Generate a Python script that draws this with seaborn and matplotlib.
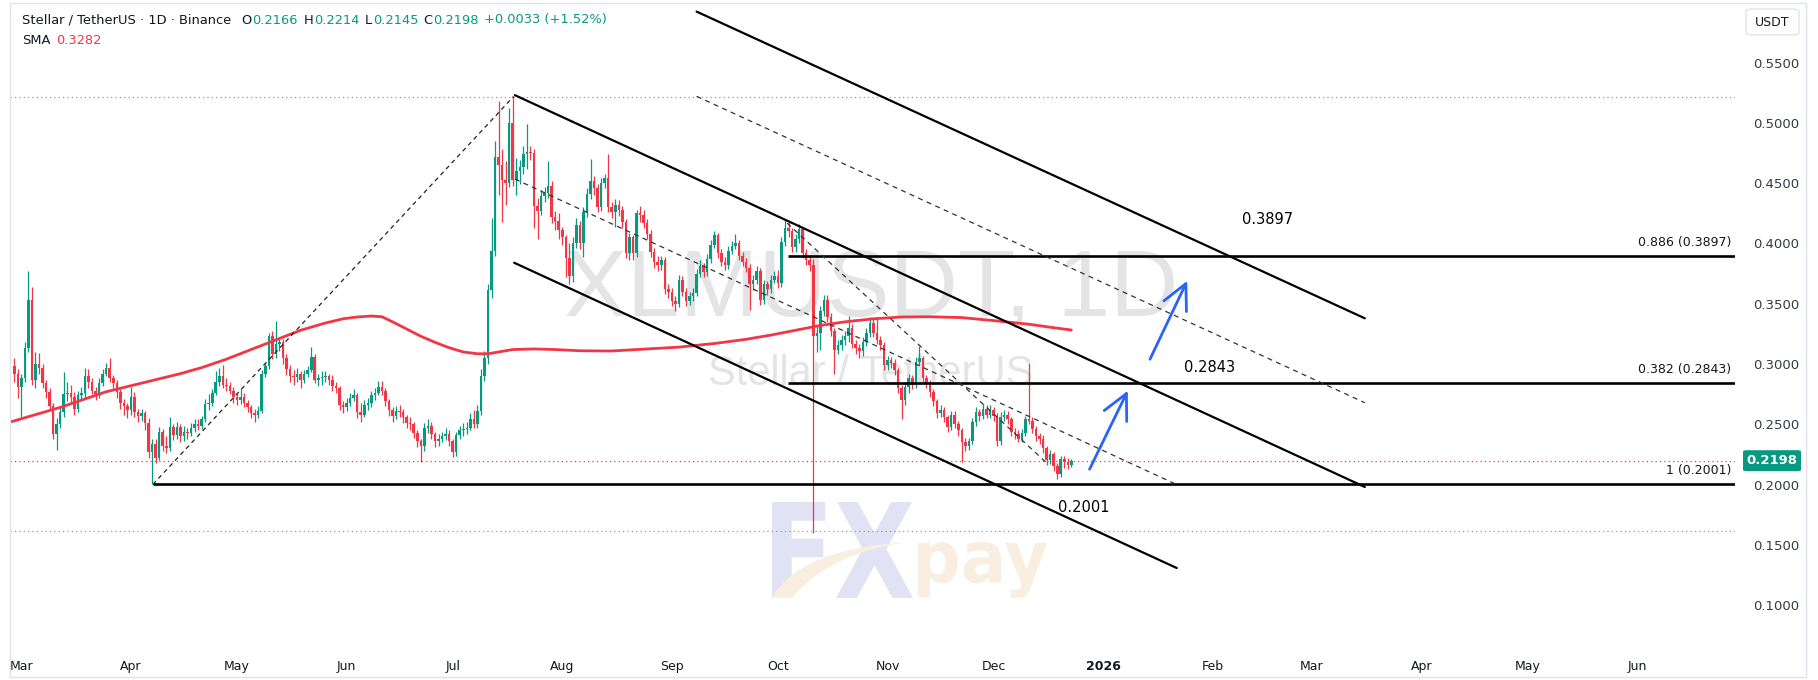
import numpy as np
import pandas as pd
import matplotlib
matplotlib.use("Agg")
import matplotlib.pyplot as plt
import matplotlib.transforms as mtransforms
import seaborn as sns
from matplotlib.patches import FancyBboxPatch, Rectangle, PathPatch
from matplotlib.path import Path
from matplotlib.textpath import TextPath
from matplotlib.font_manager import FontProperties

# XLM/USDT daily candles, 27 Feb 2025 .. 23 Dec 2025
start_date = "2025-02-27"
first_open = 0.298
closes = [
    0.292, 0.281, 0.288, 0.313, 0.353, 0.287, 0.300, 0.297, 0.284, 0.277,
    0.265, 0.242, 0.250, 0.260, 0.275, 0.276, 0.273, 0.263, 0.274, 0.276,
    0.290, 0.285, 0.278, 0.275, 0.284, 0.292, 0.297, 0.288, 0.284, 0.277,
    0.268, 0.265, 0.262, 0.273, 0.260, 0.257, 0.259, 0.251, 0.227, 0.234,
    0.222, 0.244, 0.232, 0.230, 0.248, 0.241, 0.248, 0.240, 0.244, 0.243,
    0.247, 0.250, 0.249, 0.254, 0.267, 0.268, 0.276, 0.285, 0.290, 0.283,
    0.282, 0.278, 0.273, 0.270, 0.273, 0.268, 0.264, 0.259, 0.258, 0.261,
    0.292, 0.298, 0.323, 0.308, 0.317, 0.318, 0.305, 0.296, 0.290, 0.289,
    0.292, 0.287, 0.292, 0.295, 0.306, 0.287, 0.288, 0.289, 0.290, 0.287,
    0.282, 0.280, 0.266, 0.264, 0.268, 0.272, 0.274, 0.260, 0.258, 0.266,
    0.268, 0.274, 0.276, 0.281, 0.278, 0.269, 0.262, 0.257, 0.261, 0.260,
    0.256, 0.251, 0.250, 0.243, 0.236, 0.232, 0.247, 0.249, 0.242, 0.236,
    0.238, 0.240, 0.242, 0.236, 0.227, 0.241, 0.245, 0.246, 0.247, 0.254,
    0.250, 0.261, 0.290, 0.305, 0.361, 0.394, 0.472, 0.465, 0.453, 0.450,
    0.500, 0.453, 0.460, 0.463, 0.474, 0.476, 0.475, 0.431, 0.427, 0.439,
    0.442, 0.448, 0.422, 0.419, 0.411, 0.405, 0.388, 0.373, 0.400, 0.415,
    0.400, 0.426, 0.441, 0.452, 0.446, 0.430, 0.450, 0.454, 0.430, 0.426,
    0.432, 0.428, 0.418, 0.392, 0.405, 0.392, 0.425, 0.424, 0.417, 0.408,
    0.393, 0.385, 0.382, 0.386, 0.362, 0.360, 0.352, 0.350, 0.370, 0.360,
    0.352, 0.356, 0.359, 0.375, 0.381, 0.376, 0.387, 0.399, 0.407, 0.392,
    0.385, 0.382, 0.394, 0.398, 0.400, 0.390, 0.385, 0.380, 0.366, 0.370,
    0.377, 0.353, 0.366, 0.362, 0.370, 0.373, 0.367, 0.401, 0.413, 0.410,
    0.397, 0.404, 0.412, 0.392, 0.386, 0.382, 0.323, 0.326, 0.344, 0.353,
    0.339, 0.327, 0.312, 0.316, 0.320, 0.323, 0.330, 0.317, 0.313, 0.311,
    0.318, 0.326, 0.334, 0.326, 0.320, 0.316, 0.299, 0.303, 0.301, 0.295,
    0.280, 0.270, 0.281, 0.288, 0.283, 0.302, 0.305, 0.288, 0.284, 0.277,
    0.269, 0.259, 0.262, 0.256, 0.248, 0.258, 0.250, 0.245, 0.235, 0.232,
    0.236, 0.252, 0.260, 0.257, 0.263, 0.258, 0.262, 0.257, 0.236, 0.256,
    0.258, 0.254, 0.244, 0.242, 0.238, 0.243, 0.254, 0.253, 0.246, 0.240,
    0.238, 0.230, 0.220, 0.225, 0.215, 0.209, 0.221, 0.219, 0.2166, 0.2198,
]
highs = [
    0.305, 0.296, 0.292, 0.318, 0.377, 0.364, 0.310, 0.309, 0.300, 0.287,
    0.280, 0.268, 0.255, 0.265, 0.293, 0.285, 0.283, 0.277, 0.278, 0.281,
    0.297, 0.296, 0.288, 0.281, 0.288, 0.296, 0.301, 0.305, 0.291, 0.287,
    0.279, 0.271, 0.268, 0.281, 0.277, 0.263, 0.263, 0.261, 0.255, 0.238,
    0.238, 0.248, 0.246, 0.240, 0.256, 0.250, 0.252, 0.250, 0.249, 0.247,
    0.251, 0.254, 0.254, 0.257, 0.271, 0.275, 0.279, 0.294, 0.297, 0.299,
    0.288, 0.285, 0.281, 0.276, 0.279, 0.276, 0.270, 0.266, 0.263, 0.265,
    0.295, 0.301, 0.326, 0.327, 0.336, 0.322, 0.321, 0.308, 0.299, 0.295,
    0.297, 0.294, 0.295, 0.298, 0.314, 0.308, 0.292, 0.294, 0.294, 0.292,
    0.291, 0.285, 0.282, 0.269, 0.272, 0.276, 0.279, 0.276, 0.268, 0.270,
    0.272, 0.278, 0.280, 0.286, 0.286, 0.280, 0.271, 0.264, 0.265, 0.266,
    0.263, 0.258, 0.256, 0.252, 0.245, 0.238, 0.251, 0.254, 0.252, 0.244,
    0.242, 0.244, 0.247, 0.245, 0.238, 0.244, 0.249, 0.251, 0.252, 0.259,
    0.262, 0.266, 0.296, 0.311, 0.366, 0.421, 0.485, 0.518, 0.478, 0.468,
    0.512, 0.522, 0.471, 0.469, 0.481, 0.499, 0.481, 0.478, 0.438, 0.444,
    0.447, 0.468, 0.452, 0.427, 0.425, 0.414, 0.407, 0.400, 0.405, 0.421,
    0.419, 0.430, 0.446, 0.470, 0.456, 0.449, 0.454, 0.458, 0.474, 0.434,
    0.437, 0.436, 0.431, 0.420, 0.409, 0.407, 0.428, 0.431, 0.428, 0.420,
    0.411, 0.396, 0.390, 0.390, 0.389, 0.366, 0.363, 0.356, 0.374, 0.373,
    0.363, 0.360, 0.363, 0.379, 0.386, 0.384, 0.391, 0.403, 0.410, 0.409,
    0.395, 0.389, 0.398, 0.402, 0.408, 0.403, 0.393, 0.388, 0.383, 0.374,
    0.381, 0.380, 0.370, 0.369, 0.374, 0.377, 0.378, 0.405, 0.420, 0.418,
    0.413, 0.408, 0.416, 0.414, 0.395, 0.390, 0.387, 0.332, 0.348, 0.357,
    0.357, 0.342, 0.330, 0.320, 0.324, 0.327, 0.340, 0.333, 0.320, 0.317,
    0.322, 0.330, 0.339, 0.337, 0.339, 0.323, 0.318, 0.307, 0.306, 0.304,
    0.297, 0.283, 0.285, 0.292, 0.291, 0.306, 0.315, 0.307, 0.291, 0.287,
    0.279, 0.271, 0.266, 0.264, 0.258, 0.261, 0.261, 0.253, 0.247, 0.239,
    0.239, 0.255, 0.264, 0.263, 0.267, 0.266, 0.266, 0.264, 0.259, 0.260,
    0.262, 0.261, 0.256, 0.247, 0.245, 0.246, 0.257, 0.301, 0.256, 0.249,
    0.243, 0.241, 0.232, 0.229, 0.227, 0.218, 0.224, 0.224, 0.222, 0.2214,
]
lows = [
    0.285, 0.272, 0.256, 0.285, 0.310, 0.283, 0.280, 0.292, 0.280, 0.272,
    0.262, 0.238, 0.229, 0.247, 0.256, 0.269, 0.267, 0.258, 0.260, 0.270,
    0.272, 0.280, 0.275, 0.270, 0.272, 0.282, 0.290, 0.285, 0.280, 0.272,
    0.263, 0.258, 0.255, 0.258, 0.256, 0.252, 0.253, 0.245, 0.222, 0.2001,
    0.218, 0.220, 0.228, 0.226, 0.228, 0.237, 0.238, 0.235, 0.236, 0.238,
    0.240, 0.244, 0.245, 0.246, 0.252, 0.262, 0.265, 0.274, 0.282, 0.280,
    0.278, 0.275, 0.268, 0.266, 0.267, 0.264, 0.260, 0.255, 0.252, 0.255,
    0.259, 0.289, 0.296, 0.304, 0.305, 0.311, 0.300, 0.291, 0.285, 0.283,
    0.285, 0.280, 0.284, 0.289, 0.293, 0.284, 0.282, 0.283, 0.285, 0.283,
    0.278, 0.276, 0.262, 0.259, 0.261, 0.265, 0.269, 0.255, 0.252, 0.256,
    0.262, 0.264, 0.270, 0.274, 0.274, 0.265, 0.257, 0.252, 0.254, 0.256,
    0.251, 0.247, 0.245, 0.239, 0.231, 0.219, 0.228, 0.243, 0.238, 0.231,
    0.232, 0.235, 0.237, 0.232, 0.223, 0.224, 0.238, 0.240, 0.242, 0.245,
    0.247, 0.247, 0.258, 0.286, 0.300, 0.355, 0.390, 0.440, 0.418, 0.432,
    0.447, 0.448, 0.440, 0.449, 0.458, 0.462, 0.469, 0.413, 0.404, 0.424,
    0.434, 0.438, 0.417, 0.411, 0.404, 0.399, 0.372, 0.366, 0.368, 0.396,
    0.395, 0.389, 0.422, 0.437, 0.440, 0.426, 0.427, 0.446, 0.426, 0.421,
    0.414, 0.423, 0.413, 0.388, 0.386, 0.386, 0.389, 0.418, 0.413, 0.404,
    0.389, 0.380, 0.377, 0.378, 0.358, 0.355, 0.348, 0.344, 0.347, 0.356,
    0.348, 0.349, 0.352, 0.356, 0.372, 0.372, 0.373, 0.384, 0.396, 0.388,
    0.381, 0.378, 0.379, 0.391, 0.395, 0.386, 0.381, 0.376, 0.345, 0.361,
    0.366, 0.349, 0.350, 0.357, 0.359, 0.367, 0.363, 0.364, 0.398, 0.405,
    0.393, 0.393, 0.400, 0.388, 0.382, 0.377, 0.160, 0.310, 0.312, 0.340,
    0.335, 0.323, 0.292, 0.308, 0.312, 0.316, 0.318, 0.313, 0.308, 0.305,
    0.307, 0.315, 0.322, 0.322, 0.317, 0.312, 0.295, 0.295, 0.297, 0.291,
    0.276, 0.254, 0.266, 0.276, 0.279, 0.280, 0.299, 0.284, 0.280, 0.273,
    0.265, 0.255, 0.256, 0.252, 0.244, 0.245, 0.247, 0.240, 0.219, 0.228,
    0.229, 0.234, 0.249, 0.253, 0.254, 0.255, 0.255, 0.253, 0.232, 0.233,
    0.253, 0.250, 0.240, 0.238, 0.235, 0.235, 0.240, 0.250, 0.243, 0.236,
    0.234, 0.226, 0.216, 0.217, 0.211, 0.205, 0.206, 0.214, 0.213, 0.2145,
]

# SMA (days from 1 Apr 2025)
sma_days = [-34, -27, -20, -13, -7, 0, 7, 14, 20, 27, 34, 41, 48, 55, 60, 64, 68,
            71, 74, 78, 82, 86, 90, 94, 98, 101, 104, 108, 114, 120, 127, 136,
            146, 155, 165, 174, 181, 188, 195, 202, 210, 218, 226, 235, 244,
            254, 260, 266]
sma_vals = [0.252, 0.258, 0.264, 0.271, 0.277, 0.282, 0.287, 0.292, 0.297, 0.304,
            0.312, 0.320, 0.328, 0.334, 0.3375, 0.339, 0.3398, 0.3392, 0.335,
            0.329, 0.323, 0.318, 0.3135, 0.310, 0.3085, 0.3085, 0.310, 0.312,
            0.3125, 0.312, 0.311, 0.3108, 0.3125, 0.314, 0.317, 0.3205, 0.324,
            0.328, 0.332, 0.335, 0.3375, 0.339, 0.3392, 0.3385, 0.336, 0.333,
            0.3305, 0.3282]

month_labels = ["Mar", "Apr", "May", "Jun", "Jul", "Aug", "Sep", "Oct", "Nov",
                "Dec", "2026", "Feb", "Mar", "Apr", "May", "Jun"]
month_dates = ["2025-03-01", "2025-04-01", "2025-05-01", "2025-06-01",
               "2025-07-01", "2025-08-01", "2025-09-01", "2025-10-01",
               "2025-11-01", "2025-12-01", "2026-01-01", "2026-02-01",
               "2026-03-01", "2026-04-01", "2026-05-01", "2026-06-01"]
price_ticks = [0.10, 0.15, 0.20, 0.25, 0.30, 0.35, 0.40, 0.45, 0.50, 0.55]

# drawn objects: (day, price) pairs
fib_levels = [0.3897, 0.2843, 0.2001]
fib_texts = ["0.886 (0.3897)", "0.382 (0.2843)", "1 (0.2001)"]
fib_starts = [185.8, 185.8, 6.2]
channel_solid = [((108.6, 0.523), (349.0, 0.198)),
                 ((108.4, 0.384), (295.8, 0.1308)),
                 ((160.0, 0.5923), (349.0, 0.3379))]
channel_dashed = [((108.6, 0.4534), (295.8, 0.200)),
                  ((160.0, 0.522), (349.0, 0.2679)),
                  ((185.6, 0.4169), (259.0, 0.218))]
swing_line = ((6.2, 0.2001), (108.2, 0.5218))
dotted_levels = [0.5218, 0.1614]
arrows = [((270.8, 0.2107), (282.3, 0.2799)), ((287.9, 0.3019), (299.1, 0.3711))]
level_notes = [("0.3897", 321.4, 0.4202), ("0.2843", 305.2, 0.2975), ("0.2001", 269.6, 0.1806)]
last_price = 0.2198

GREEN = "#089981"
RED = "#f23645"
TXT = "#131722"

sns.set_style("white")
plt.rcParams["font.family"] = ["DejaVu Sans"]

W, H = 1818, 680
fig = plt.figure(figsize=(W / 100, H / 100), dpi=100)
fig.patch.set_facecolor("white")
ax = fig.add_axes([10 / W, 30 / H, 1725 / W, 646 / H])
YLO, YHI = 0.0628, 0.5986
ax.set_xlim(-34.2, 453.7)
ax.set_ylim(YLO, YHI)
for s in ax.spines.values():
    s.set_visible(False)
PIX = mtransforms.IdentityTransform()


def fx(x, y):
    return x / W, 1 - y / H


def logo_text(s, box, color):
    # fit a bold text outline into a pixel box (x0, y0 top, x1, y1 bottom)
    tp = TextPath((0, 0), s, size=100, prop=FontProperties(family="DejaVu Sans", weight="bold"))
    ext = tp.get_extents()
    x0, y0, x1, y1 = box
    tr = (mtransforms.Affine2D().translate(-ext.x0, -ext.y0)
          .scale((x1 - x0) / ext.width, (y1 - y0) / ext.height)
          .translate(x0, H - y1))
    ax.add_patch(PathPatch(tr.transform_path(tp), facecolor=color, edgecolor="none",
                           transform=PIX, zorder=1))


# candles
base = pd.Timestamp("2025-04-01")
dates = pd.date_range(start_date, periods=len(closes), freq="D")
df = pd.DataFrame({"x": (dates - base).days, "close": closes, "high": highs, "low": lows})
df["open"] = [first_open] + closes[:-1]
df["high"] = df[["high", "open", "close"]].max(axis=1)
df["low"] = df[["low", "open", "close"]].min(axis=1)
col = np.where(df["close"] >= df["open"], GREEN, RED)
ax.vlines(df["x"], df["low"], df["high"], colors=col, lw=0.9, zorder=4)
body = (df["close"] - df["open"]).abs().clip(lower=0.0008)
ax.bar(df["x"], body, bottom=np.minimum(df["open"], df["close"]), width=0.72,
       color=col, linewidth=0, zorder=5)

# SMA
sns.lineplot(x=sma_days, y=sma_vals, ax=ax, color=RED, lw=2.0, zorder=6, legend=False)

# level and channel drawings
for lvl in dotted_levels:
    ax.axhline(lvl, color="#9598a1", lw=0.9, ls=(0, (1, 2.5)), zorder=2)
ax.axhline(last_price, color=RED, lw=0.9, ls=(0, (1, 2.5)), zorder=2)

for lvl, x0, t in zip(fib_levels, fib_starts, fib_texts):
    ax.plot([x0, 453.7], [lvl, lvl], color="black", lw=1.9, zorder=7, solid_capstyle="butt")
    ax.text(452.6, lvl + 0.006, t, ha="right", va="bottom", fontsize=9, color=TXT, zorder=8)

for (a, b) in channel_solid:
    ax.plot([a[0], b[0]], [a[1], b[1]], color="black", lw=1.6, zorder=7)
for (a, b) in channel_dashed:
    ax.plot([a[0], b[0]], [a[1], b[1]], color="#333333", lw=0.9, ls=(0, (4, 3.5)), zorder=7)
ax.plot([swing_line[0][0], swing_line[1][0]], [swing_line[0][1], swing_line[1][1]],
        color="#222222", lw=0.9, ls=(0, (3.5, 3)), zorder=7)

for (a, b) in arrows:
    ax.annotate("", xy=b, xytext=a,
                arrowprops=dict(arrowstyle="->,head_length=0.9,head_width=0.45",
                                color="#2962ff", lw=2.0, mutation_scale=20), zorder=8)

for t, x, y in level_notes:
    ax.text(x, y, t, ha="center", va="center", fontsize=10.5, color="black", zorder=8)

# watermarks
ax.text(*fx(871, 291), "XLMUSDT, 1D", transform=fig.transFigure, ha="center", va="center",
        fontsize=68, color="#e4e4e7", family="Liberation Sans", zorder=1)
ax.text(*fx(871, 374), "Stellar / TetherUS", transform=fig.transFigure, ha="center",
        va="center", fontsize=30, color="#e4e4e7", family="Liberation Sans", zorder=1)
logo_text("FX", (772, 502, 913, 598), "#e1e2f3")
logo_text("pay", (918, 542, 1047, 598), "#f9efe0")
swoosh = Path([(772, H - 598), (800, H - 548), (910, H - 542), (910, H - 542),
               (830, H - 552), (792, H - 598), (772, H - 598)],
              [Path.MOVETO, Path.CURVE3, Path.CURVE3, Path.LINETO,
               Path.CURVE3, Path.CURVE3, Path.CLOSEPOLY])
ax.add_patch(PathPatch(swoosh, facecolor="#f9efe0", edgecolor="none", transform=PIX, zorder=1))

# axes labels
ax.yaxis.tick_right()
ax.set_yticks(price_ticks)
ax.set_yticklabels([f"{v:.4f}" for v in price_ticks])
ax.tick_params(axis="y", length=0, pad=13, labelsize=9.5, labelcolor="#363a45")
xt = [(pd.Timestamp(d) - base).days for d in month_dates]
ax.set_xticks(xt)
ax.set_xticklabels(month_labels)
ax.tick_params(axis="x", length=0, pad=7, labelsize=9, labelcolor=TXT)
for lab in ax.get_xticklabels():
    if lab.get_text() == "2026":
        lab.set_fontweight("bold")

# price tag and currency box
y_tag = (30 + (last_price - YLO) / (YHI - YLO) * 646) / H
fig.patches.append(FancyBboxPatch((1743 / W, y_tag - 10.5 / H), 58 / W, 21 / H,
                                  boxstyle="round,pad=0,rounding_size=0.002",
                                  transform=fig.transFigure, facecolor=GREEN,
                                  edgecolor="none", zorder=9))
fig.text(1772 / W, y_tag, f"{last_price:.4f}", ha="center", va="center", fontsize=9.5,
         fontweight="bold", color="white", zorder=10)
fig.patches.append(FancyBboxPatch((1746 / W, 1 - 35 / H), 53 / W, 26 / H,
                                  boxstyle="round,pad=0,rounding_size=0.004",
                                  transform=fig.transFigure, facecolor="white",
                                  edgecolor="#e0e3eb", lw=1, zorder=9))
fig.text(*fx(1772, 22), "USDT", ha="center", va="center", fontsize=9, color=TXT, zorder=10)

# chart frame
fig.patches.append(Rectangle((10 / W, 3 / H), 1796 / W, 674 / H, transform=fig.transFigure,
                             fill=False, edgecolor="#e0e3eb", lw=1, zorder=0))

# header
hy1, hy2 = 20, 41
fs = 9.4
fig.text(*fx(22, hy1), "Stellar / TetherUS · 1D · Binance", ha="left", va="center",
         fontsize=fs, color=TXT)
for lab, xl, val, xv in [("O", 241, "0.2166", 252), ("H", 304, "0.2214", 314),
                         ("L", 365, "0.2145", 373), ("C", 423, "0.2198", 433)]:
    fig.text(*fx(xl, hy1), lab, ha="left", va="center", fontsize=fs, color=TXT)
    fig.text(*fx(xv, hy1), val, ha="left", va="center", fontsize=fs, color=GREEN)
fig.text(*fx(484, hy1), "+0.0033 (+1.52%)", ha="left", va="center", fontsize=fs, color=GREEN)
fig.text(*fx(22, hy2), "SMA", ha="left", va="center", fontsize=fs, color=TXT)
fig.text(*fx(56, hy2), "0.3282", ha="left", va="center", fontsize=fs, color=RED)

fig.savefig("out.png", dpi=100, facecolor="white")
